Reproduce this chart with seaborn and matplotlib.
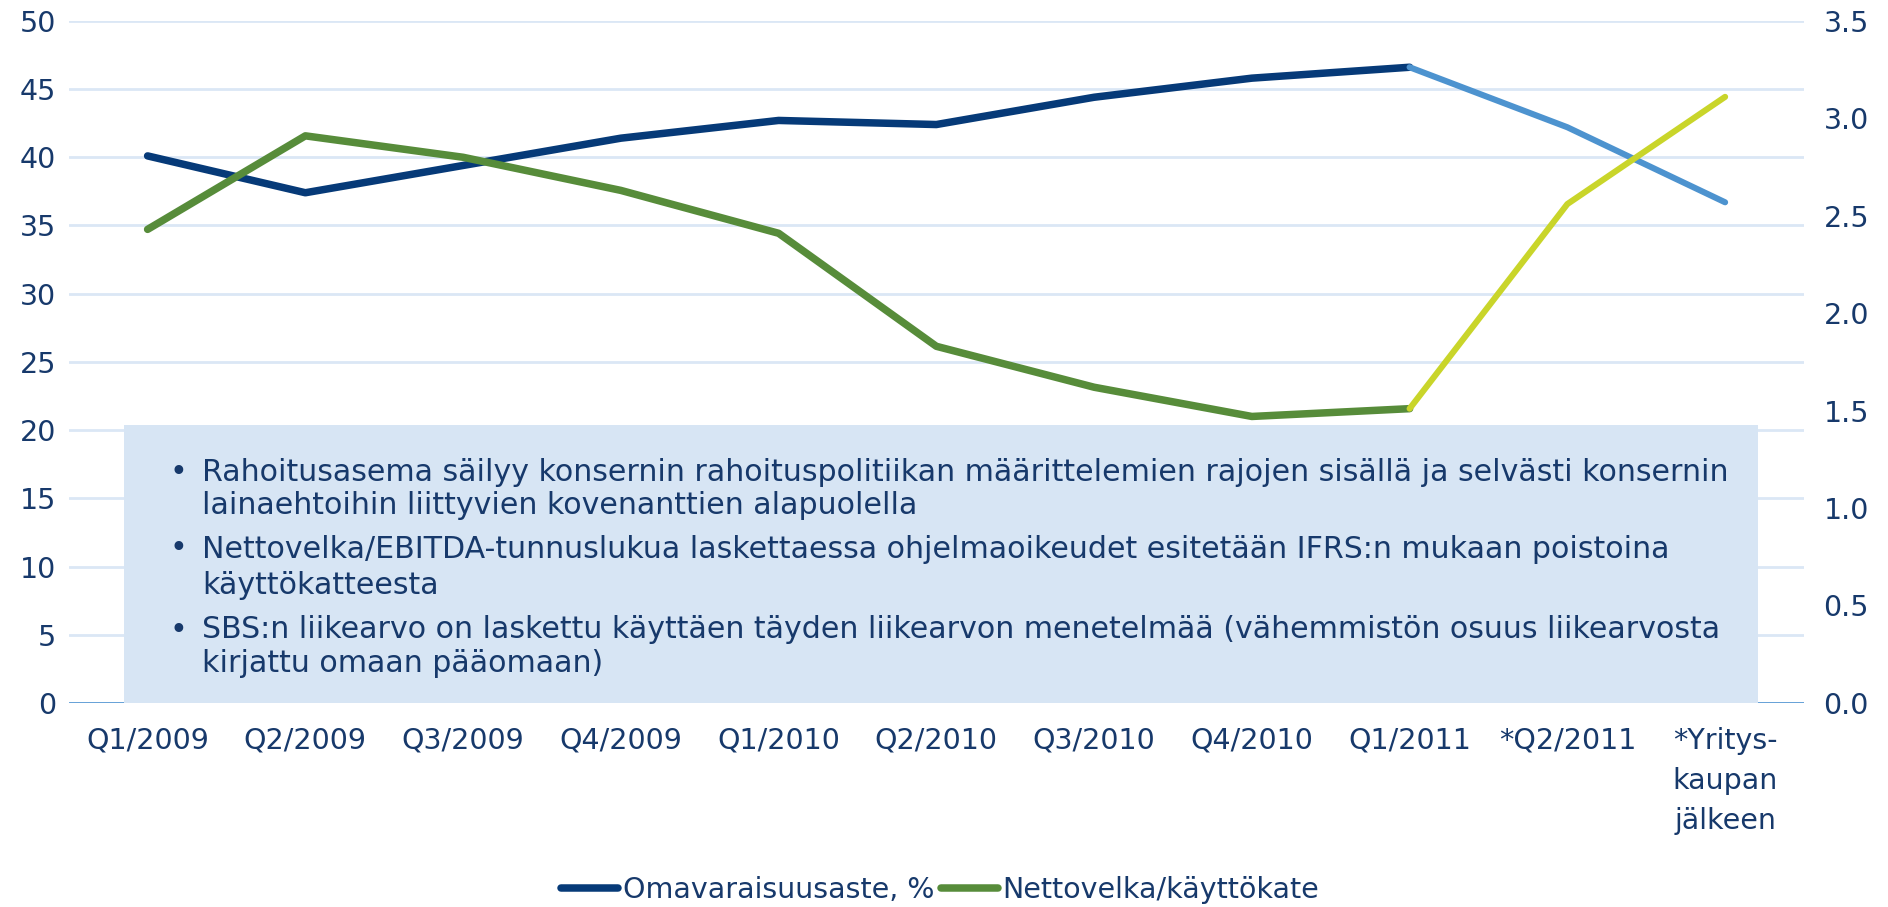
import matplotlib
matplotlib.use("Agg")
import matplotlib.pyplot as plt
import seaborn as sns
import pandas as pd
from matplotlib.patches import Rectangle
from matplotlib.lines import Line2D

# ---------------- data ----------------
categories = ["Q1/2009", "Q2/2009", "Q3/2009", "Q4/2009", "Q1/2010", "Q2/2010",
              "Q3/2010", "Q4/2010", "Q1/2011", "*Q2/2011", "*Yritys-\nkaupan\njälkeen"]
omavaraisuusaste = [40.1, 37.4, 39.4, 41.4, 42.7, 42.4, 44.4, 45.8, 46.6, 42.2, 36.7]
nettovelka_kayttokate = [2.43, 2.91, 2.80, 2.63, 2.41, 1.83, 1.62, 1.47, 1.51, 2.56, 3.11]
n_actual = 9  # first 9 points are actual, rest are estimates
left_ticks = [0, 5, 10, 15, 20, 25, 30, 35, 40, 45, 50]
right_ticks = [0.0, 0.5, 1.0, 1.5, 2.0, 2.5, 3.0, 3.5]
series_names = ["Omavaraisuusaste, %", "Nettovelka/käyttökate"]
notes = [
    ("Rahoitusasema säilyy konsernin rahoituspolitiikan määrittelemien rajojen sisällä ja selvästi konsernin",
     "lainaehtoihin liittyvien kovenanttien alapuolella"),
    ("Nettovelka/EBITDA-tunnuslukua laskettaessa ohjelmaoikeudet esitetään IFRS:n mukaan poistoina",
     "käyttökatteesta"),
    ("SBS:n liikearvo on laskettu käyttäen täyden liikearvon menetelmää (vähemmistön osuus liikearvosta",
     "kirjattu omaan pääomaan)"),
]

# ---------------- style ----------------
sns.set_theme(style="white")
plt.rcParams["font.family"] = ["DejaVu Sans"]
TXT = "#17396b"
DARK = "#063a78"
LIGHT = "#4d93cf"
GREEN = "#578c3a"
YGREEN = "#c9d52a"
GRID = "#dbe7f5"
BOX = "#d7e5f4"
FS = 20.5
FS_NOTE = 21.6

fig = plt.figure(figsize=(18.88, 9.07), dpi=100)
ax = fig.add_axes([0.0364, 0.225, 0.9555 - 0.0364, 0.977 - 0.225])
ax2 = ax.twinx()

df = pd.DataFrame({"x": range(len(categories)),
                   "eq": omavaraisuusaste,
                   "nd": nettovelka_kayttokate})
act = df.iloc[:n_actual]
est = df.iloc[n_actual - 1:]

sns.lineplot(data=act, x="x", y="eq", ax=ax, color=DARK, lw=5.4, solid_capstyle="round", zorder=4)
sns.lineplot(data=est, x="x", y="eq", ax=ax, color=LIGHT, lw=4.4, solid_capstyle="round", zorder=4)
sns.lineplot(data=act, x="x", y="nd", ax=ax2, color=GREEN, lw=5.4, solid_capstyle="round", zorder=4)
sns.lineplot(data=est, x="x", y="nd", ax=ax2, color=YGREEN, lw=4.4, solid_capstyle="round", zorder=4)

ax.set_xlim(-0.5, len(categories) - 0.5)
ax.set_ylim(0, 50)
ax2.set_ylim(0, 3.5)
ax.set_yticks(left_ticks)
ax.set_yticklabels([str(t) for t in left_ticks])
ax2.set_yticks(right_ticks)
ax2.set_yticklabels([f"{t:.1f}" for t in right_ticks])
ax.set_xticks(range(len(categories)))
ax.set_xticklabels(categories)
for lab in ax.get_xticklabels():
    lab.set_linespacing(1.55)

for a in (ax, ax2):
    a.set_xlabel("")
    a.set_ylabel("")
    for s in a.spines.values():
        s.set_visible(False)
    a.grid(False)
ax.yaxis.grid(True, color=GRID, lw=2)
ax.set_axisbelow(True)
ax.axhline(0, color="#5b9bd5", lw=2, zorder=1)

ax.tick_params(axis="y", length=0, pad=9, labelsize=FS, labelcolor=TXT)
ax2.tick_params(axis="y", length=0, pad=14, labelsize=FS, labelcolor=TXT)
ax.tick_params(axis="x", length=0, pad=17, labelsize=FS, labelcolor=TXT)
ax2.tick_params(axis="x", length=0, labelbottom=False)

# ---------------- note box ----------------
box = Rectangle((124 / 1888, 0.225), (1758 - 124) / 1888, 0.531 - 0.225,
                transform=fig.transFigure, facecolor=BOX, edgecolor="none", zorder=3)
ax.add_patch(box)
line_y = [472, 506, 549, 586, 630, 663]
k = 0
for first, second in notes:
    y1 = 1 - line_y[k] / 907
    y2 = 1 - line_y[k + 1] / 907
    fig.text(170 / 1888, y1, "•", fontsize=FS_NOTE, color=TXT, va="center", ha="left", zorder=5)
    fig.text(202 / 1888, y1, first, fontsize=FS_NOTE, color=TXT, va="center", ha="left", zorder=5)
    fig.text(202 / 1888, y2, second, fontsize=FS_NOTE, color=TXT, va="center", ha="left", zorder=5)
    k += 2

# ---------------- legend ----------------
handles = [Line2D([], [], color=DARK, lw=5.4, solid_capstyle="round"),
           Line2D([], [], color=GREEN, lw=5.4, solid_capstyle="round")]
fig.legend(handles, series_names, loc="center", bbox_to_anchor=(0.498, 0.019), ncol=2,
           frameon=False, fontsize=FS, labelcolor=TXT, handlelength=2.0,
           handletextpad=0.15, columnspacing=0.25)

fig.savefig("out.png", dpi=100)
